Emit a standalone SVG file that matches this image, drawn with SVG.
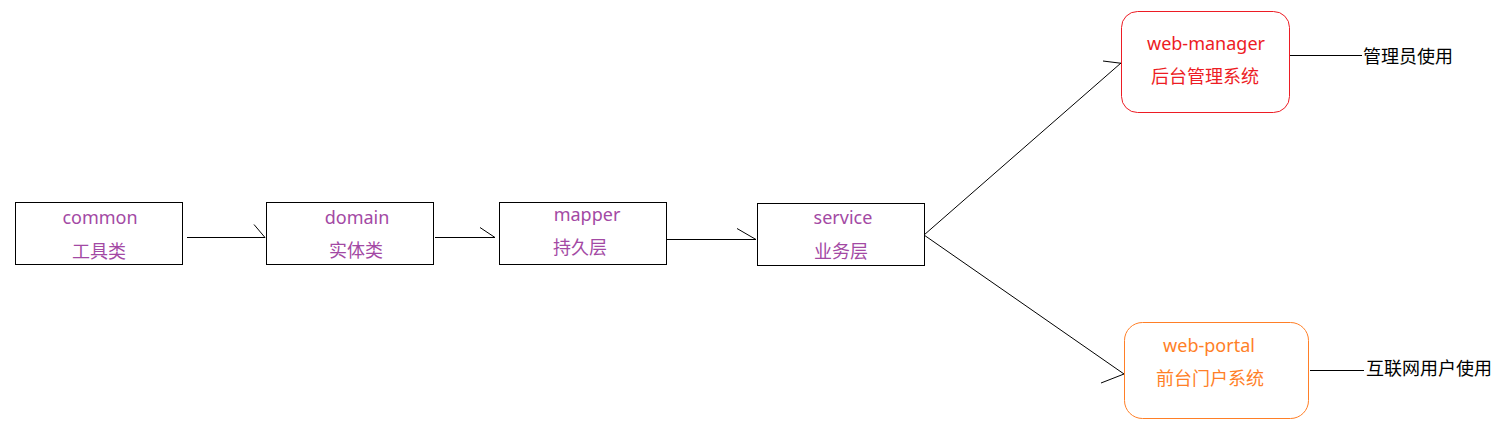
<svg xmlns="http://www.w3.org/2000/svg" width="1497" height="424" viewBox="0 0 1497 424">
<style>
text{font-family:"Microsoft YaHei","Noto Sans","Noto Sans CJK SC",sans-serif;font-size:18px;text-anchor:middle}
.box{fill:#fff;stroke:#000;stroke-width:1}
.p{fill:#a349a4}
.r{fill:#ed1c24}
.o{fill:#ff7f27}
.k{fill:#000;text-anchor:start}
.c line,.c polyline{stroke:#000;stroke-width:1;fill:none}
</style>
<rect width="1497" height="424" fill="#fff"/>
<g class="c" id="connectors">
<line x1="187" y1="237.5" x2="265" y2="237.5"/>
<line x1="254" y1="224.5" x2="265" y2="237.5"/>
<line x1="435" y1="237.5" x2="495" y2="237.5"/>
<line x1="480" y1="227.5" x2="495" y2="237.5"/>
<line x1="665" y1="239.5" x2="756" y2="239.5"/>
<line x1="737" y1="228.5" x2="756" y2="239.5"/>
<line x1="924" y1="235" x2="1121" y2="63"/>
<line x1="1103" y1="61" x2="1127" y2="64"/>
<line x1="924" y1="235" x2="1124" y2="374"/>
<line x1="1101" y1="383" x2="1124" y2="374"/>
<line x1="1287" y1="55.5" x2="1362" y2="55.5"/>
<line x1="1310" y1="370.5" x2="1364" y2="370.5"/>
</g>
<g id="common">
<rect class="box" x="15.5" y="202.5" width="167" height="62"/>
<text class="p" x="100" y="224">common</text>
<text class="p" x="99" y="258">工具类</text>
</g>
<g id="domain">
<rect class="box" x="266.5" y="202.5" width="167" height="62"/>
<text class="p" x="357" y="224">domain</text>
<text class="p" x="356" y="257">实体类</text>
</g>
<g id="mapper">
<rect class="box" x="499.5" y="202.5" width="167" height="62"/>
<text class="p" x="587" y="221">mapper</text>
<text class="p" x="580" y="253.5">持久层</text>
</g>
<g id="service">
<rect class="box" x="757.5" y="203.5" width="167" height="62"/>
<text class="p" x="843" y="224">service</text>
<text class="p" x="841" y="257.5">业务层</text>
</g>
<g id="web-manager">
<rect x="1121.5" y="11.5" width="168" height="101" rx="16" fill="#fff" stroke="#ed1c24" stroke-width="1"/>
<text class="r" x="1206" y="50">web-manager</text>
<text class="r" x="1205" y="83">后台管理系统</text>
</g>
<g id="web-portal">
<rect x="1124.5" y="322.5" width="184" height="96" rx="18" fill="#fff" stroke="#ff7f27" stroke-width="1"/>
<text class="o" x="1209" y="352">web-portal</text>
<text class="o" x="1210" y="385">前台门户系统</text>
</g>
<g id="labels">
<text class="k" x="1363" y="63">管理员使用</text>
<text class="k" x="1366" y="375">互联网用户使用</text>
</g>
</svg>
